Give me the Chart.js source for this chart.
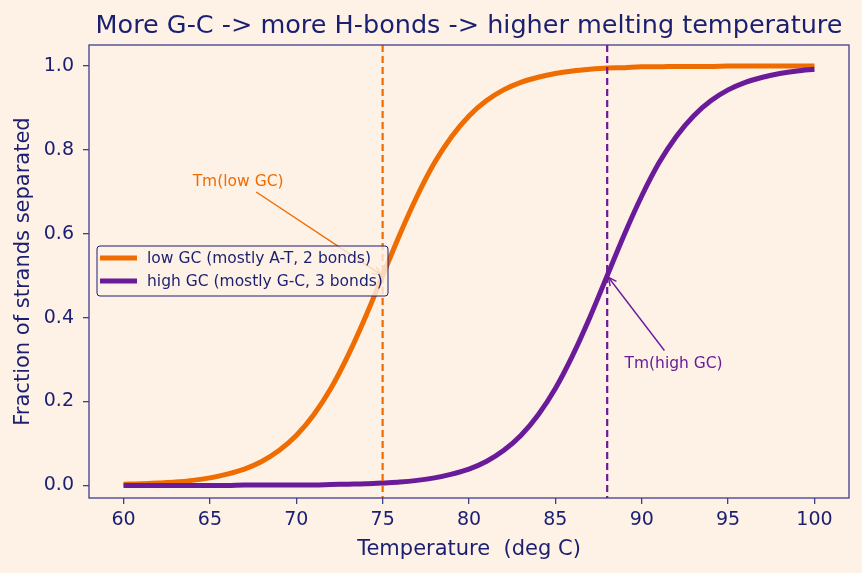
<!DOCTYPE html>
<html>
<head>
<meta charset="utf-8">
<script src="https://cdn.jsdelivr.net/npm/chart.js@4/dist/chart.umd.min.js"></script>
<style>
  html, body { margin: 0; padding: 0; background: #fef1e6; }
  #wrap { width: 862px; height: 573px; }
</style>
</head>
<body>
<div id="wrap"><canvas id="meltChart" width="862" height="573"></canvas></div>
<script>
// temperatures (deg C) and fraction separated
const temps = [60, 61, 62, 63, 64, 65, 66, 67, 68, 69, 70, 71, 72, 73, 74, 75, 76, 77, 78, 79, 80,
  81, 82, 83, 84, 85, 86, 87, 88, 89, 90, 91, 92, 93, 94, 95, 96, 97, 98, 99, 100];
const lowGC = [0.003, 0.004, 0.006, 0.008, 0.012, 0.018, 0.027, 0.039, 0.057, 0.083, 0.119, 0.168,
  0.231, 0.31, 0.401, 0.5, 0.599, 0.69, 0.769, 0.832, 0.881, 0.917, 0.943, 0.961, 0.973, 0.982,
  0.988, 0.992, 0.995, 0.996, 0.998, 0.998, 0.999, 0.999, 0.999, 1.0, 1.0, 1.0, 1.0, 1.0, 1.0];
const highGC = [0.0, 0.0, 0.0, 0.0, 0.0, 0.0, 0.0, 0.001, 0.001, 0.001, 0.001, 0.001, 0.002, 0.003,
  0.004, 0.006, 0.008, 0.012, 0.018, 0.027, 0.039, 0.057, 0.083, 0.119, 0.168, 0.231, 0.31, 0.401,
  0.5, 0.599, 0.69, 0.769, 0.832, 0.881, 0.917, 0.943, 0.961, 0.973, 0.982, 0.988, 0.992];
const seriesNames = ['low GC (mostly A-T, 2 bonds)', 'high GC (mostly G-C, 3 bonds)'];
const meltTemps = [75, 88];
const tmLabels = ['Tm(low GC)', 'Tm(high GC)'];
const tmTextAt = [[64, 0.715], [89, 0.28]];
const xTicks = [60, 65, 70, 75, 80, 85, 90, 95, 100];
const yTicks = [0.0, 0.2, 0.4, 0.6, 0.8, 1.0];

const NAVY = '#1a1f71';
const ORANGE = '#ef6c00';
const PURPLE = '#6a1b9a';
const BG = '#fef1e6';
const SPINE = '#3d3f8f';
const FONT = '"DejaVu Sans", sans-serif';
const colors = [ORANGE, PURPLE];

const toPts = ys => temps.map((t, i) => ({ x: t, y: ys[i] }));

const extras = {
  id: 'extras',
  beforeDraw(chart) {
    const c = chart.ctx;
    c.save();
    c.fillStyle = BG;
    c.fillRect(0, 0, chart.width, chart.height);
    c.restore();
  },
  afterDatasetsDraw(chart) {
    const c = chart.ctx;
    const xs = chart.scales.x, ys = chart.scales.y, a = chart.chartArea;

    // dashed Tm lines
    meltTemps.forEach((t, i) => {
      const px = xs.getPixelForValue(t);
      c.save();
      c.strokeStyle = colors[i];
      c.lineWidth = 2.2;
      c.setLineDash([7, 4]);
      c.beginPath();
      c.moveTo(px, a.top);
      c.lineTo(px, a.bottom);
      c.stroke();
      c.restore();
    });

    // annotations with arrows
    meltTemps.forEach((t, i) => {
      c.save();
      c.font = '15.5px ' + FONT;
      const tx = xs.getPixelForValue(tmTextAt[i][0]);
      const ty = ys.getPixelForValue(tmTextAt[i][1]);
      c.fillStyle = colors[i];
      c.textBaseline = 'alphabetic';
      c.fillText(tmLabels[i], tx, ty);
      const w = c.measureText(tmLabels[i]).width;
      const cx = tx + w / 2, cy = ty - 5.5;
      const hw = w / 2 + 4, hh = 12;
      const px = xs.getPixelForValue(t), py = ys.getPixelForValue(0.5);
      const dx = px - cx, dy = py - cy;
      const s = Math.min(Math.abs(hw / dx), Math.abs(hh / dy));
      const sx = cx + dx * s, sy = cy + dy * s;
      const len = Math.hypot(px - sx, py - sy);
      const ux = (px - sx) / len, uy = (py - sy) / len;
      const ex = px - ux * 2, ey = py - uy * 2;
      c.strokeStyle = colors[i];
      c.lineWidth = 1.4;
      c.beginPath();
      c.moveTo(sx, sy);
      c.lineTo(ex, ey);
      c.stroke();
      const hl = 9, ang = 0.45;
      const base = Math.atan2(uy, ux);
      c.beginPath();
      c.moveTo(ex - hl * Math.cos(base - ang), ey - hl * Math.sin(base - ang));
      c.lineTo(ex, ey);
      c.lineTo(ex - hl * Math.cos(base + ang), ey - hl * Math.sin(base + ang));
      c.stroke();
      c.restore();
    });

    // legend box
    c.save();
    const lx = 97, ly = 246, lw = 291, lh = 50;
    c.beginPath();
    c.roundRect(lx, ly, lw, lh, 3);
    c.fillStyle = 'rgba(254,241,230,0.8)';
    c.fill();
    c.strokeStyle = NAVY;
    c.lineWidth = 1;
    c.stroke();
    c.font = '15.5px ' + FONT;
    c.textBaseline = 'middle';
    seriesNames.forEach((name, i) => {
      const yy = ly + 12 + i * 23;
      c.strokeStyle = colors[i];
      c.lineWidth = 5;
      c.beginPath();
      c.moveTo(lx + 3, yy);
      c.lineTo(lx + 40, yy);
      c.stroke();
      c.fillStyle = NAVY;
      c.fillText(name, lx + 50, yy + 1);
    });
    c.restore();

    // title
    c.save();
    c.font = '25.5px ' + FONT;
    c.fillStyle = NAVY;
    c.textAlign = 'center';
    c.textBaseline = 'middle';
    c.fillText('More G-C -> more H-bonds -> higher melting temperature', (a.left + a.right) / 2, 26);
    c.restore();

    // frame
    c.save();
    c.strokeStyle = SPINE;
    c.lineWidth = 1.3;
    c.strokeRect(a.left, a.top, a.right - a.left, a.bottom - a.top);
    c.restore();
  }
};

new Chart(document.getElementById('meltChart'), {
  type: 'scatter',
  data: {
    datasets: [
      { label: seriesNames[0], data: toPts(lowGC), borderColor: ORANGE, borderWidth: 5,
        showLine: true, pointRadius: 0, cubicInterpolationMode: 'monotone', order: 2 },
      { label: seriesNames[1], data: toPts(highGC), borderColor: PURPLE, borderWidth: 5,
        showLine: true, pointRadius: 0, cubicInterpolationMode: 'monotone', order: 1 }
    ]
  },
  options: {
    responsive: false,
    animation: false,
    devicePixelRatio: 1,
    layout: { padding: { top: 45, right: 13, left: 0, bottom: 0 } },
    plugins: { legend: { display: false }, title: { display: false }, tooltip: { enabled: false } },
    scales: {
      x: {
        type: 'linear', min: 58, max: 102,
        afterBuildTicks: s => { s.ticks = xTicks.map(v => ({ value: v })); },
        afterFit: s => { s.height = 75; },
        grid: { drawOnChartArea: false, drawTicks: true, tickLength: 6, color: SPINE, lineWidth: 1.3 },
        border: { display: false },
        ticks: { color: NAVY, font: { family: FONT, size: 19 }, padding: 5, maxRotation: 0 },
        title: { display: true, text: 'Temperature  (deg C)', color: NAVY,
                 font: { family: FONT, size: 21 }, padding: { top: 0, bottom: 11 } }
      },
      y: {
        type: 'linear', min: -0.03, max: 1.05,
        afterBuildTicks: s => { s.ticks = yTicks.map(v => ({ value: v })); },
        afterFit: s => { s.width = 89; },
        grid: { drawOnChartArea: false, drawTicks: true, tickLength: 6, color: SPINE, lineWidth: 1.3 },
        border: { display: false },
        ticks: { color: NAVY, font: { family: FONT, size: 19 }, padding: 9,
                 callback: v => v.toFixed(1) },
        title: { display: true, text: 'Fraction of strands separated', color: NAVY,
                 font: { family: FONT, size: 21 }, padding: { top: 11, bottom: 0 } }
      }
    }
  },
  plugins: [extras]
});
</script>
</body>
</html>
